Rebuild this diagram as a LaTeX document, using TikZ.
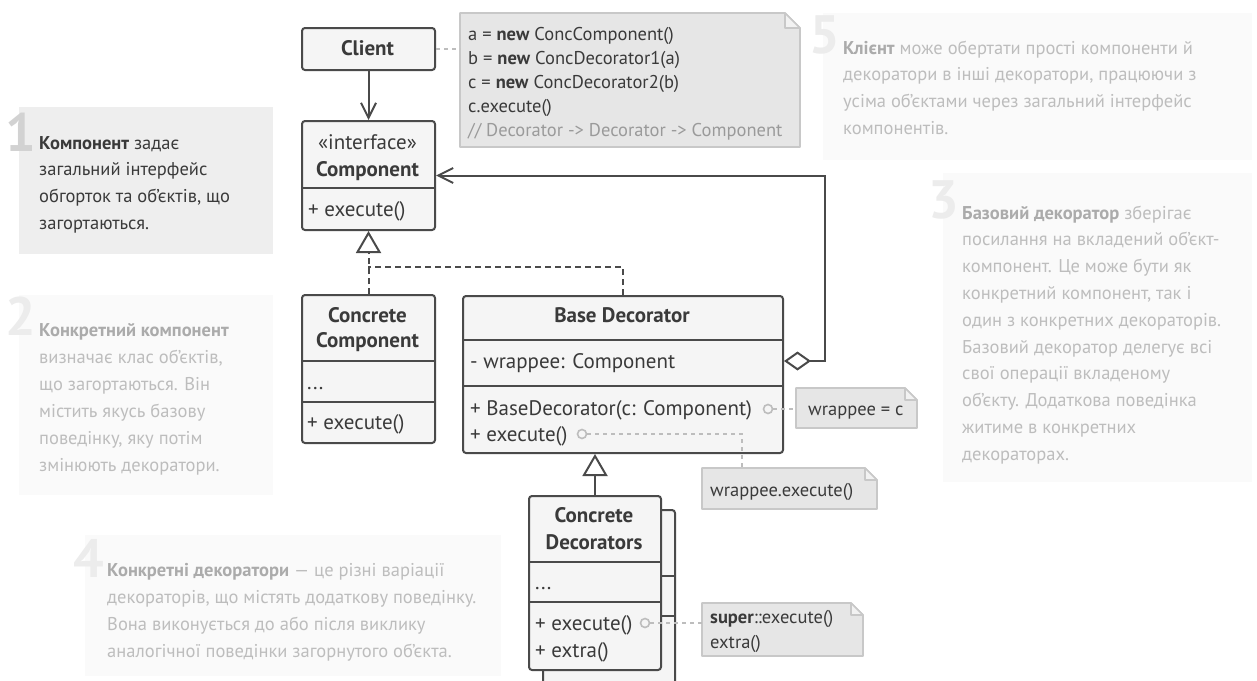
\documentclass[tikz,border=0pt]{standalone}
\usepackage{fontspec}
\setmainfont{PT Sans}
\usetikzlibrary{arrows.meta,calc}

\definecolor{ink}{HTML}{4A4A4A}
\definecolor{maintext}{HTML}{3A3A3A}
\definecolor{boxfill}{HTML}{F5F5F5}
\definecolor{notefill}{HTML}{E6E6E6}
\definecolor{foldfill}{HTML}{F2F2F2}
\definecolor{noteline}{HTML}{C8C8C8}
\definecolor{hint}{HTML}{BDBDBD}
\definecolor{comment}{HTML}{9A9A9A}
\definecolor{sidefill}{HTML}{FAFAFA}
\definecolor{sidefillon}{HTML}{EEEEEE}
\definecolor{sidetext}{HTML}{BDBDBD}
\definecolor{sidebold}{HTML}{ABABAB}
\definecolor{sidenum}{HTML}{ECECEC}
\definecolor{sidenumon}{HTML}{D2D2D2}

% keywords inside the explanation panels
\newcommand\kwon[1]{{\bfseries\color{maintext}#1}}
\newcommand\kwoff[1]{{\bfseries\color{sidebold}#1}}

% a row of text lines, each one a node set on its own baseline
\newcommand\textlines[6]{%
  \foreach \lineitem [count=\k] in {#6} {%
    \node[#5, anchor=base west] (#1-\k) at (#2, {#3+(\k-1)*#4}) {\lineitem};
  }%
}

% note shape with a folded top-right corner, drawn round a blank node
\newcommand\dogear[2]{%
  \filldraw[fill=notefill, draw=noteline, line width=1.6pt, line join=round]
    (#1.north west) -- ([xshift=-#2]#1.north east) -- ([yshift=-#2]#1.north east)
    -- (#1.south east) -- (#1.south west) -- cycle;
  \filldraw[fill=foldfill, draw=noteline, line width=1.6pt, line join=round]
    ([xshift=-#2]#1.north east) -- ([xshift=-#2,yshift=-#2]#1.north east)
    -- ([yshift=-#2]#1.north east) -- cycle;
}

\tikzset{
  umlbox/.style={draw=ink, fill=boxfill, line width=2pt, rounded corners=3pt,
    inner sep=0pt, anchor=north west},
  divider/.style={draw=ink, line width=2pt},
  umltext/.style={text=maintext, font=\fontsize{21}{25}\selectfont, inner sep=0pt},
  umlhead/.style={umltext, font=\fontsize{21}{25}\selectfont\bfseries, anchor=base},
  notebox/.style={inner sep=0pt, outer sep=0pt, anchor=north west},
  notetext/.style={text=maintext, font=\fontsize{18.5}{22}\selectfont, inner sep=0pt},
  sidebox/.style={inner sep=0pt, outer sep=0pt, anchor=north west},
  sidenumber/.style={font=\fontsize{54}{54}\selectfont\bfseries, inner sep=0pt, anchor=base east},
  sideon/.style={text=maintext, font=\fontsize{18.5}{22}\selectfont, inner sep=0pt},
  sideoff/.style={text=sidetext, font=\fontsize{18.5}{22}\selectfont, inner sep=0pt},
  assoc/.style={draw=ink, line width=2pt, -{Straight Barb[length=15pt, width=15pt]}},
  realize/.style={draw=ink, line width=2pt, dash pattern=on 6pt off 4pt},
  inherit/.style={draw=ink, line width=2pt},
  hollowtri/.style={-{Triangle[open, length=22pt, width=25pt, fill=white]}},
  noteconn/.style={draw=hint, line width=2pt, dash pattern=on 4pt off 4pt},
  pin/.style={circle, draw=hint, line width=1.6pt, fill=boxfill, minimum size=9pt, inner sep=0pt},
}

\begin{document}
\begin{tikzpicture}[x=1pt, y=-1pt]
\fill[white] (0,0) rectangle (1257,680);
\useasboundingbox (0,0) rectangle (1257,680);

% ---------- explanation panels ----------
\node[sidebox, fill=sidefillon, minimum width=254, minimum height=147] (panel1) at (19,107) {};
\node[sidenumber, text=sidenumon] (num1) at (36,151) {1};
\textlines{p1}{39}{149}{26.7}{sideon}{%
  {\kwon{Компонент} задає},
  {загальний інтерфейс},
  {обгорток та об’єктів, що},
  {загортаються.}}

\node[sidebox, fill=sidefill, minimum width=254, minimum height=200] (panel2) at (19,295) {};
\node[sidenumber, text=sidenum] (num2) at (36,335) {2};
\textlines{p2}{39}{336}{27}{sideoff}{%
  {\kwoff{Конкретний компонент}},
  {визначає клас об’єктів,},
  {що загортаються. Він},
  {містить якусь базову},
  {поведінку, яку потім},
  {змінюють декоратори.}}

\node[sidebox, fill=sidefill, minimum width=429, minimum height=147] (panel5) at (823,13) {};
\node[sidenumber, text=sidenum] (num5) at (840,53) {5};
\textlines{p5}{843}{54}{26.7}{sideoff}{%
  {\kwoff{Клієнт} може обертати прості компоненти й},
  {декоратори в інші декоратори, працюючи з},
  {усіма об’єктами через загальний інтерфейс},
  {компонентів.}}

\node[sidebox, fill=sidefill, minimum width=309, minimum height=309] (panel3) at (943,173) {};
\node[sidenumber, text=sidenum] (num3) at (959,218) {3};
\textlines{p3}{962}{219}{26.8}{sideoff}{%
  {\kwoff{Базовий декоратор} зберігає},
  {посилання на вкладений об’єкт-},
  {компонент. Це може бути як},
  {конкретний компонент, так і},
  {один з конкретних декораторів.},
  {Базовий декоратор делегує всі},
  {свої операції вкладеному},
  {об’єкту. Додаткова поведінка},
  {житиме в конкретних},
  {декораторах.}}

\node[sidebox, fill=sidefill, minimum width=416, minimum height=141] (panel4) at (85,535) {};
\node[sidenumber, text=sidenum] (num4) at (104,577) {4};
\textlines{p4}{107}{576}{27}{sideoff}{%
  {\kwoff{Конкретні декоратори} — це різні варіації},
  {декораторів, що містять додаткову поведінку.},
  {Вона виконується до або після виклику},
  {аналогічної поведінки загорнутого об’єкта.}}

% ---------- notes ----------
\node[notebox, minimum width=340, minimum height=134] (codenote) at (460,13) {};
\dogear{codenote}{15pt}
\textlines{code}{468}{40}{24}{notetext}{%
  {a = \textbf{new} ConcComponent()},
  {b = \textbf{new} ConcDecorator1(a)},
  {c = \textbf{new} ConcDecorator2(b)},
  {c.execute()},
  {\color{comment}// Decorator -> Decorator -> Component}}

\node[notebox, minimum width=121, minimum height=40] (wnote) at (796,388) {};
\dogear{wnote}{12pt}
\node[notetext, anchor=base west] (wnotetext) at (808,415) {wrappee = c};

\node[notebox, minimum width=175, minimum height=41] (wexec) at (702,468) {};
\dogear{wexec}{12pt}
\node[notetext, anchor=base west] (wexectext) at (710,496) {wrappee.execute()};

\node[notebox, minimum width=161, minimum height=53] (snote) at (702,603) {};
\dogear{snote}{12pt}
\textlines{sup}{710}{623}{25}{notetext}{%
  {\textbf{super}::execute()},
  {extra()}}

% ---------- classes ----------
\node[umlbox, minimum width=133, minimum height=42] (client) at (301,27) {};
\node[umlhead] (clientname) at (367.5,55) {Client};

\node[umlbox, minimum width=133, minimum height=109] (comp) at (301,120) {};
\draw[divider] (comp.west |- 0,188) -- (comp.east |- 0,188);
\node[umltext, anchor=base] (compstereo) at (367.5,149) {«interface»};
\node[umlhead] (compname) at (367.5,176) {Component};
\node[umltext, anchor=base west] (compop) at (308,216) {+ execute()};

\node[umlbox, minimum width=133, minimum height=148] (ccomp) at (301,294) {};
\draw[divider] (ccomp.west |- 0,361) -- (ccomp.east |- 0,361);
\draw[divider] (ccomp.west |- 0,402) -- (ccomp.east |- 0,402);
\node[umlhead] (ccompname1) at (367.5,322) {Concrete};
\node[umlhead] (ccompname2) at (367.5,347) {Component};
\node[umltext, anchor=base west] (ccompfield) at (307,389) {...};
\node[umltext, anchor=base west] (ccompop) at (307,429) {+ execute()};

\node[umlbox, minimum width=320, minimum height=157] (bdec) at (462,295) {};
\draw[divider] (bdec.west |- 0,340) -- (bdec.east |- 0,340);
\draw[divider] (bdec.west |- 0,386) -- (bdec.east |- 0,386);
\node[umlhead] (bdecname) at (622,322) {Base Decorator};
\node[umltext, anchor=base west] (bdecfield) at (470,368) {- wrappee: Component};
\node[umltext, anchor=base west] (bdecctor) at (470,415) {+ BaseDecorator(c: Component)};
\node[umltext, anchor=base west] (bdecop) at (470,441) {+ execute()};
\coordinate (bdecrow) at (622,361);

% stacked concrete decorators: the one behind first
\node[umlbox, minimum width=132, minimum height=174] (cdecback) at (542,509) {};
\draw[divider] (cdecback.west |- 0,576) -- (cdecback.east |- 0,576);
\draw[divider] (cdecback.west |- 0,616) -- (cdecback.east |- 0,616);
\node[umlbox, minimum width=132, minimum height=174] (cdec) at (528,495) {};
\draw[divider] (cdec.west |- 0,562) -- (cdec.east |- 0,562);
\draw[divider] (cdec.west |- 0,602) -- (cdec.east |- 0,602);
\node[umlhead] (cdecname1) at (594,522) {Concrete};
\node[umlhead] (cdecname2) at (594,549) {Decorators};
\node[umltext, anchor=base west] (cdecfield) at (535,589) {...};
\node[umltext, anchor=base west] (cdecop) at (535,630) {+ execute()};
\node[umltext, anchor=base west] (cdecextra) at (535,657) {+ extra()};

% ---------- relations ----------
\draw[assoc] (client) -- (comp);

\draw[draw=ink, line width=2pt,
  {Diamond[open, length=27pt, width=19pt, fill=white]}-{Straight Barb[length=15pt, width=15pt]}]
  (bdec.east |- bdecrow) -- ++(41,0) |- (comp.east);

\coordinate (realjoin) at (367.5,267);
\draw[realize] (bdec.north) |- (realjoin);
\draw[realize, hollowtri] (ccomp.north) -- (comp.south);

\draw[inherit, hollowtri] (cdec.north) -- (cdec.north |- bdec.south);

% ---------- note links ----------
\draw[noteconn] (client.east) -- (client.east -| codenote.west);

\node[pin] (pinctor) at (768,409) {};
\draw[noteconn] (pinctor) -- (pinctor -| wnote.west);

\node[pin] (pinexec) at (582,434) {};
\coordinate (execbend) at (742,434);
\draw[noteconn] (pinexec) -- (execbend) -- (execbend |- wexec.north);

\node[pin] (pinsuper) at (645,623) {};
\draw[noteconn] (pinsuper) -- (pinsuper -| snote.west);
\end{tikzpicture}
\end{document}
